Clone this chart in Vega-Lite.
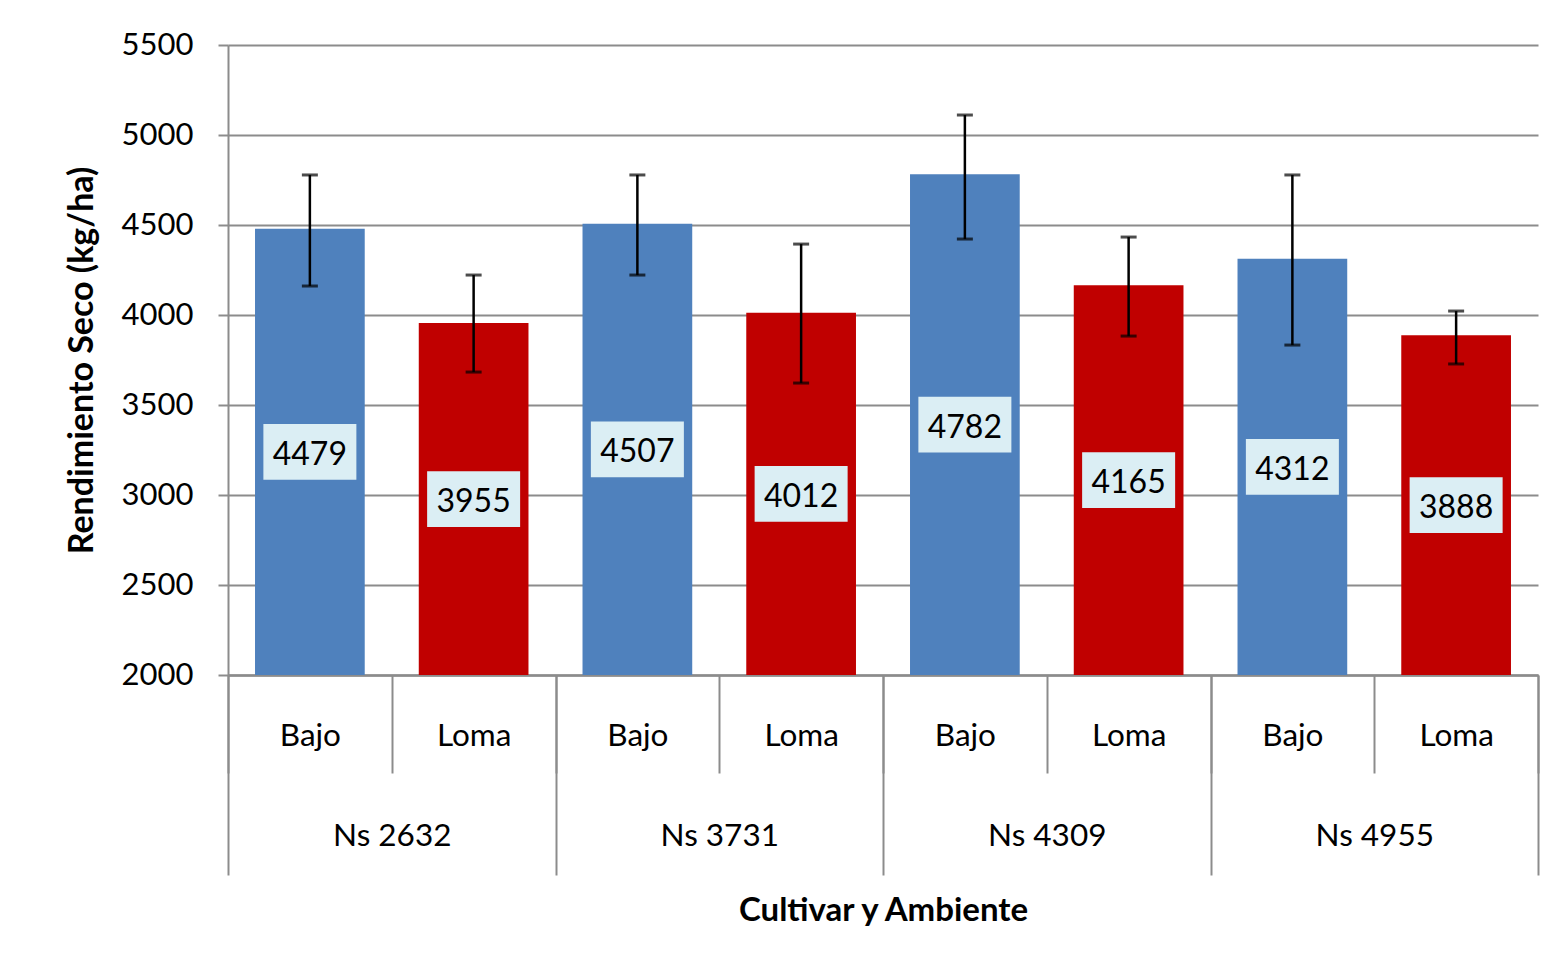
{
  "$schema": "https://vega.github.io/schema/vega-lite/v6.json",
  "width": 1310,
  "height": 630,
  "autosize": {"type": "none"},
  "padding": {"left": 228, "top": 45, "right": 19, "bottom": 294},
  "background": "white",
  "config": {
    "view": {"stroke": null},
    "font": "Lato",
    "axis": {"labelFont": "Lato", "titleFont": "Lato", "labelColor": "black", "titleColor": "black"}
  },
  "data": {
    "values": [
      {"cultivar": "Ns 2632", "ambiente": "Bajo", "key": "Ns 2632|Bajo", "v": 4479, "lo": 4161, "hi": 4778},
      {"cultivar": "Ns 2632", "ambiente": "Loma", "key": "Ns 2632|Loma", "v": 3955, "lo": 3683, "hi": 4222},
      {"cultivar": "Ns 3731", "ambiente": "Bajo", "key": "Ns 3731|Bajo", "v": 4507, "lo": 4222, "hi": 4778},
      {"cultivar": "Ns 3731", "ambiente": "Loma", "key": "Ns 3731|Loma", "v": 4012, "lo": 3622, "hi": 4394},
      {"cultivar": "Ns 4309", "ambiente": "Bajo", "key": "Ns 4309|Bajo", "v": 4782, "lo": 4422, "hi": 5111},
      {"cultivar": "Ns 4309", "ambiente": "Loma", "key": "Ns 4309|Loma", "v": 4165, "lo": 3883, "hi": 4433},
      {"cultivar": "Ns 4955", "ambiente": "Bajo", "key": "Ns 4955|Bajo", "v": 4312, "lo": 3833, "hi": 4778},
      {"cultivar": "Ns 4955", "ambiente": "Loma", "key": "Ns 4955|Loma", "v": 3888, "lo": 3728, "hi": 4022}
    ]
  },
  "resolve": {"scale": {"x": "independent"}, "axis": {"x": "independent"}},
  "layer": [
    {
      "encoding": {
        "x": {
          "field": "key",
          "type": "nominal",
          "sort": null,
          "scale": {"paddingInner": 0, "paddingOuter": 0},
          "axis": {
            "orient": "bottom",
            "title": null,
            "labelExpr": "split(datum.label, '|')[1]",
            "labelAngle": 0,
            "labelFontSize": 31.5,
            "labelBaseline": "middle",
            "labelPadding": -37,
            "tickBand": "extent",
            "tickSize": 98,
            "tickColor": "#8c8c8c",
            "tickWidth": 2,
            "domainColor": "#8c8c8c",
            "domainWidth": 2,
            "grid": false
          }
        }
      },
      "layer": [
        {
          "mark": {"type": "bar", "width": {"band": 0.67}},
          "encoding": {
            "y": {
              "field": "v",
              "type": "quantitative",
              "scale": {"domain": [2000, 5500], "zero": false, "nice": false},
              "axis": {
                "values": [2000, 2500, 3000, 3500, 4000, 4500, 5000, 5500],
                "format": "d",
                "title": "Rendimiento Seco (kg/ha)",
                "titleFontSize": 34,
                "titleFontWeight": "bold",
                "titleX": -146,
                "titleBaseline": "middle",
                "labelFontSize": 31,
                "labelPadding": 25,
                "tickSize": 10,
                "tickColor": "#8c8c8c",
                "tickWidth": 2,
                "domainColor": "#8c8c8c",
                "domainWidth": 2,
                "gridColor": "#8c8c8c",
                "gridWidth": 2,
                "labelFlush": false
              }
            },
            "y2": {"datum": 2000},
            "color": {
              "field": "ambiente",
              "type": "nominal",
              "scale": {"domain": ["Bajo", "Loma"], "range": ["#4f81bd", "#c00000"]},
              "legend": null
            }
          }
        },
        {
          "mark": {"type": "rule", "color": "black", "strokeWidth": 2.5},
          "encoding": {
            "y": {"field": "lo", "type": "quantitative"},
            "y2": {"field": "hi"}
          }
        },
        {
          "mark": {"type": "tick", "orient": "horizontal", "color": "black", "size": 16, "thickness": 3},
          "encoding": {"y": {"field": "hi", "type": "quantitative"}}
        },
        {
          "mark": {"type": "tick", "orient": "horizontal", "color": "black", "size": 16, "thickness": 3},
          "encoding": {"y": {"field": "lo", "type": "quantitative"}}
        },
        {
          "transform": [{"calculate": "(datum.v + 2000) / 2", "as": "mid"}],
          "mark": {"type": "point", "shape": "M-1,-0.6H1V0.6H-1Z", "size": 8649, "filled": true, "fill": "#dbeef4", "opacity": 1, "strokeWidth": 0},
          "encoding": {"y": {"field": "mid", "type": "quantitative"}}
        },
        {
          "transform": [{"calculate": "(datum.v + 2000) / 2", "as": "mid"}],
          "mark": {"type": "text", "fontSize": 32, "color": "black", "baseline": "middle", "align": "center", "font": "Lato", "dy": 3},
          "encoding": {
            "y": {"field": "mid", "type": "quantitative"},
            "text": {"field": "v", "type": "quantitative", "format": "d"}
          }
        }
      ]
    },
    {
      "mark": {"type": "text", "opacity": 0, "text": ""},
      "encoding": {
        "x": {
          "field": "cultivar",
          "type": "nominal",
          "sort": null,
          "scale": {"paddingInner": 0, "paddingOuter": 0},
          "axis": {
            "orient": "bottom",
            "title": "Cultivar y Ambiente",
            "titleFontSize": 33,
            "titleFontWeight": "bold",
            "titleY": 235,
            "titleBaseline": "middle",
            "labelAngle": 0,
            "labelFontSize": 31.5,
            "labelBaseline": "middle",
            "labelPadding": -39,
            "tickBand": "extent",
            "tickSize": 200,
            "tickColor": "#8c8c8c",
            "tickWidth": 2,
            "domainColor": "#8c8c8c",
            "domainWidth": 2,
            "grid": false
          }
        }
      }
    }
  ]
}
